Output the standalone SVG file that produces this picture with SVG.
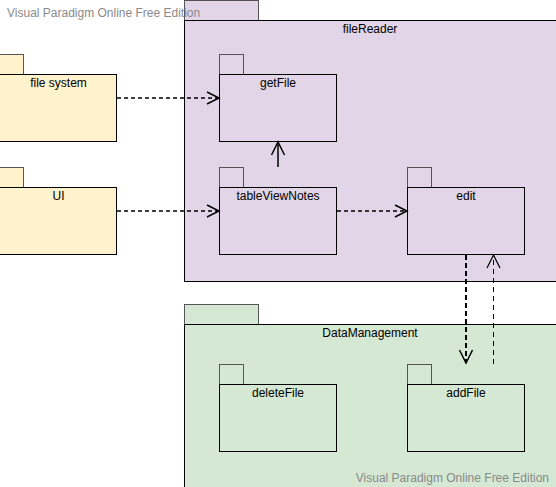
<svg xmlns="http://www.w3.org/2000/svg" width="556" height="487" viewBox="0 0 556 487">
<defs>
<style>
.t{font-family:"Liberation Sans",Arial,sans-serif;font-size:12px;fill:#000;text-anchor:middle}
.wm{font-family:"Liberation Sans",Arial,sans-serif;font-size:12px;fill:#8a8a8a}
.b{stroke:#000;stroke-width:1}
.tab{stroke:#555;stroke-width:1}
.pur{fill:#e1d5e7}
.grn{fill:#d5e8d4}
.yel{fill:#fff2cc}
.c{fill:none;stroke:#000;stroke-width:1.5;stroke-dasharray:4 3}
.h{fill:none;stroke:#000;stroke-width:1.5}
</style>
</defs>
<g id="fileReader">
<rect class="pur tab" x="184.5" y="0.5" width="74" height="20"/>
<rect class="pur b" x="184.5" y="20.5" width="380" height="261"/>
<text class="t" x="370" y="33">fileReader</text>
</g>
<g id="DataManagement">
<rect class="grn tab" x="184.5" y="304.5" width="74" height="20"/>
<rect class="grn b" x="184.5" y="324.5" width="380" height="180"/>
<text class="t" x="370" y="337">DataManagement</text>
</g>
<g id="fileSystem">
<rect class="yel tab" x="-0.5" y="54.5" width="24" height="20"/>
<rect class="yel b" x="-0.5" y="74.5" width="117" height="67"/>
<text class="t" x="58.5" y="87">file system</text>
</g>
<g id="UI">
<rect class="yel tab" x="-0.5" y="167.5" width="24" height="20"/>
<rect class="yel b" x="-0.5" y="187.5" width="117" height="67"/>
<text class="t" x="58.5" y="200">UI</text>
</g>
<g id="getFile">
<rect class="pur tab" x="219.5" y="54.5" width="24" height="20"/>
<rect class="pur b" x="219.5" y="74.5" width="117" height="67"/>
<text class="t" x="278" y="87">getFile</text>
</g>
<g id="tableViewNotes">
<rect class="pur tab" x="219.5" y="167.5" width="24" height="20"/>
<rect class="pur b" x="219.5" y="187.5" width="117" height="67"/>
<text class="t" x="278" y="200">tableViewNotes</text>
</g>
<g id="edit">
<rect class="pur tab" x="407.5" y="167.5" width="24" height="20"/>
<rect class="pur b" x="407.5" y="187.5" width="117" height="67"/>
<text class="t" x="466" y="200">edit</text>
</g>
<g id="deleteFile">
<rect class="grn tab" x="219.5" y="364.5" width="24" height="20"/>
<rect class="grn b" x="219.5" y="384.5" width="117" height="67"/>
<text class="t" x="278" y="397">deleteFile</text>
</g>
<g id="addFile">
<rect class="grn tab" x="407.5" y="364.5" width="24" height="20"/>
<rect class="grn b" x="407.5" y="384.5" width="117" height="67"/>
<text class="t" x="466" y="397">addFile</text>
</g>
<g id="connectors">
<path class="c" d="M117 98 H218"/>
<path class="h" d="M207 92 L219 98 L207 104"/>
<path class="c" d="M117 211 H218"/>
<path class="h" d="M207 205 L219 211 L207 217"/>
<path class="c" d="M337 211 H406"/>
<path class="h" d="M395 205 L407 211 L395 217"/>
<path class="h" d="M278 167 V143"/>
<path class="h" d="M271.5 155 L278 142 L284.5 155"/>
<path class="c" d="M466 255 V362" style="stroke-width:2;stroke-dasharray:5 3"/>
<path class="h" d="M459.5 350 L466 363 L472.5 350"/>
<path class="c" d="M493.5 364 V256" style="stroke-width:1;stroke-dasharray:5 4"/>
<path class="h" d="M487 268 L493.5 255 L500 268" style="stroke-width:1.2"/>
</g>
<text class="wm" x="7" y="17">Visual Paradigm Online Free Edition</text>
<text class="wm" x="549" y="482" text-anchor="end">Visual Paradigm Online Free Edition</text>
</svg>
